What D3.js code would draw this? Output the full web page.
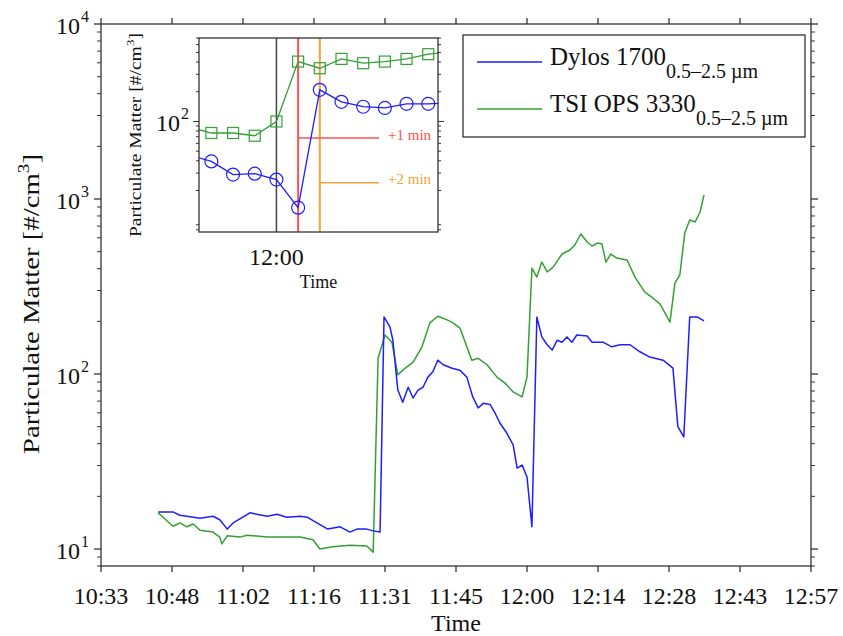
<!DOCTYPE html>
<html>
  <head>
    <meta charset="utf-8">
    <title></title>
    <script src="https://d3js.org/d3.v7.min.js"></script>
  </head>
  <style>
    body { margin: 0; background: #fff; }
    svg { font-family: "Liberation Serif", "Times New Roman", serif; }
  </style>
  <body>
  <svg width="843" height="636"></svg>
  <script>

  // time is in minutes after 10:00
  var dylosMin = [45.2,48.2,49.6,53.7,56.3,57.7,59.2,60.4,63.8,67.3,69.3,71.3,74.0,75.4,77.4,79.6,82.1,84.1,85.5,87.5,88.8,90.2,
    91.0,92.2,92.8,93.8,94.8,95.9,96.9,97.9,98.9,99.9,100.9,101.9,103.0,104.8,106.4,107.8,109.0,110.1,111.1,112.5,113.5,114.5,
    115.9,117.2,118.0,119.0,120.0,121.0,122.0,123.0,124.1,125.1,126.1,127.1,128.1,129.1,130.1,132.2,133.2,135.4,137.2,138.9,
    140.9,142.9,144.9,147.6,149.6,150.6,151.8,153.0,154.5,155.9];
  var dylosVal = [16.3,16.3,15.6,15.0,15.4,14.7,13.0,14.1,16.1,15.4,15.8,15.2,15.4,15.2,14.1,13.0,13.4,12.5,13.0,13.0,12.7,12.5,
    212,186,156,81,69,84,73,81,84,96,103,120,113,108,105,96,74,64,68,67,60,52.5,
    46,39.3,29,30.2,25.8,13.4,212,163,147,137,156,152,163,152,167,165,152,152,143,147,
    147,134,125,120,108,50,43.7,212,212,201];

  var tsiMin = [45.2,46.2,48.2,49.6,51.0,52.3,53.7,56.3,57.7,58.1,59.2,61.8,63.2,67.3,71.3,74.0,76.6,78.0,80.6,84.1,87.5,88.8,
    89.8,91.2,92.6,93.8,95.3,96.9,98.7,100.3,101.9,103.8,105.0,106.4,107.8,108.8,110.1,111.9,113.9,115.5,117.2,119.0,120.0,
    121.0,122.0,123.0,124.1,125.3,127.1,128.7,129.7,130.9,132.2,133.2,134.4,135.2,136.0,137.0,138.2,140.3,141.9,143.9,145.5,
    147.0,149.0,150.0,151.0,152.0,153.0,154.1,155.1,155.9];
  var tsiVal = [16.1,15.2,13.5,14.1,13.4,13.9,12.8,12.5,11.7,10.7,11.9,11.7,12.0,11.7,11.7,11.7,11.3,10.0,10.3,10.5,10.4,9.6,
    123,167,152,99,108,117,143,196,214,204,196,183,143,120,123,113,96,89,79,74,96,
    403,358,436,383,408,485,511,546,631,568,539,561,553,436,485,460,448,358,294,272,
    251,198,331,368,640,759,739,843,1054];

  var xTickLabels = ["10:33","10:48","11:02","11:16","11:31","11:45","12:00","12:14","12:28","12:43","12:57"];
  var xTickStep = 14.4;
  var xStart = 33.6;
  var yMajor = [10, 100, 1000, 10000];

  // inset: minutes relative to 12:00
  var insetMin = [-4,-3,-2,-1,0,1,2,3,4,5,6,7,8];
  var insetDylos = [45.6,39.4,29.0,29.6,25.8,13.4,209,158,141,137,151,151,155];
  var insetTsi = [87.4,76.4,76.4,71.7,100,404,346,430,389,404,430,480,506];
  var insetMarks = [{t: 0, color: "#444"}, {t: 1, color: "#ff5050", label: "+1 min", ly: 68}, {t: 2, color: "#f2a33a", label: "+2 min", ly: 24}];

  var svg = d3.select("svg");
  svg.append("rect").attr("width", 843).attr("height", 636).attr("fill", "#fff");

  var mLeft = 101, mRight = 811, mTop = 24, mBottom = 566;

  var x = d3.scaleLinear().domain([xStart, xStart + xTickStep * 10]).range([mLeft, mRight]);
  var y = d3.scaleLog().domain([8, 10000]).range([mBottom, mTop]);

  var blue = "#1e1eff", green = "#34a034";

  // minor ticks for the log axis
  function minorTicks(domain) {
    var out = [];
    for (var p = -1; p < 5; p++) {
      for (var k = 2; k < 10; k++) {
        var v = k * Math.pow(10, p);
        if (v >= domain[0] && v <= domain[1]) out.push(v);
      }
    }
    return out;
  }

  var axisCol = "#333";

  // main box
  svg.append("rect").attr("x", mLeft).attr("y", mTop).attr("width", mRight - mLeft).attr("height", mBottom - mTop)
    .attr("fill", "none").attr("stroke", axisCol).attr("stroke-width", 1.3);

  var xt = d3.range(11).map(function(i) { return xStart + i * xTickStep; });
  var g = svg.append("g");
  xt.forEach(function(t, i) {
    g.append("line").attr("x1", x(t)).attr("x2", x(t)).attr("y1", mBottom).attr("y2", mBottom + 6).attr("stroke", axisCol).attr("stroke-width", 1.3);
    g.append("line").attr("x1", x(t)).attr("x2", x(t)).attr("y1", mTop).attr("y2", mTop - 6).attr("stroke", axisCol).attr("stroke-width", 1.3);
    g.append("text").attr("x", x(t)).attr("y", mBottom + 38).attr("text-anchor", "middle")
      .attr("font-size", 24).attr("fill", "#111").text(xTickLabels[i]);
  });

  yMajor.forEach(function(v) {
    g.append("line").attr("x1", mLeft).attr("x2", mLeft - 7).attr("y1", y(v)).attr("y2", y(v)).attr("stroke", axisCol).attr("stroke-width", 1.3);
    g.append("line").attr("x1", mRight).attr("x2", mRight + 7).attr("y1", y(v)).attr("y2", y(v)).attr("stroke", axisCol).attr("stroke-width", 1.3);
    g.append("text").attr("x", 80).attr("y", y(v) + 10).attr("text-anchor", "end")
      .attr("font-size", 24).attr("fill", "#111").text("10");
    g.append("text").attr("x", 81).attr("y", y(v) - 2).attr("font-size", 16).attr("fill", "#111").text(Math.round(Math.log10(v)));
  });
  minorTicks(y.domain()).forEach(function(v) {
    g.append("line").attr("x1", mLeft).attr("x2", mLeft - 4).attr("y1", y(v)).attr("y2", y(v)).attr("stroke", axisCol);
    g.append("line").attr("x1", mRight).attr("x2", mRight + 4).attr("y1", y(v)).attr("y2", y(v)).attr("stroke", axisCol);
  });

  svg.append("text").attr("x", (mLeft + mRight) / 2).attr("y", 631).attr("text-anchor", "middle")
    .attr("font-size", 24).attr("fill", "#111").text("Time");

  var yl = svg.append("text").attr("transform", "translate(39,304) rotate(-90)").attr("text-anchor", "middle")
    .attr("font-size", 24).attr("fill", "#111")
    .attr("textLength", 300).attr("lengthAdjust", "spacingAndGlyphs");
  yl.append("tspan").text("Particulate Matter [#/cm");
  yl.append("tspan").attr("font-size", 16).attr("dy", -10).text("3");
  yl.append("tspan").attr("dy", 10).text("]");

  // main lines
  var line = d3.line().x(function(d) { return x(d[0]); }).y(function(d) { return y(d[1]); });
  svg.append("path").datum(d3.zip(tsiMin, tsiVal)).attr("d", line)
    .attr("fill", "none").attr("stroke", green).attr("stroke-width", 1.5).attr("stroke-linejoin", "round");
  svg.append("path").datum(d3.zip(dylosMin, dylosVal)).attr("d", line)
    .attr("fill", "none").attr("stroke", blue).attr("stroke-width", 1.5).attr("stroke-linejoin", "round");

  // legend
  var lg = svg.append("g");
  lg.append("rect").attr("x", 463).attr("y", 35).attr("width", 342).attr("height", 102)
    .attr("fill", "#fff").attr("stroke", axisCol).attr("stroke-width", 1.3);
  [{name: "Dylos 1700", color: blue, ly: 62}, {name: "TSI OPS 3330", color: green, ly: 109}].forEach(function(s) {
    lg.append("line").attr("x1", 477).attr("x2", 542).attr("y1", s.ly).attr("y2", s.ly).attr("stroke", s.color).attr("stroke-width", 1.5);
    var t = lg.append("text").attr("x", 550).attr("y", s.ly + 3).attr("font-size", 25).attr("fill", "#111");
    t.append("tspan").text(s.name);
    t.append("tspan").attr("font-size", 20).attr("dy", 13).text("0.5\u20132.5 \u00b5m");
  });

  // inset
  var il = 199, ir = 438, it = 38, ib = 232;
  var ix = d3.scaleLinear().domain([-3.57, 7.45]).range([il, ir]);
  var iy = d3.scaleLog().domain([7.6, 700]).range([ib, it]);

  var ins = svg.append("g");
  ins.append("rect").attr("x", il).attr("y", it).attr("width", ir - il).attr("height", ib - it).attr("fill", "#fff");
  ins.append("clipPath").attr("id", "iclip").append("rect")
    .attr("x", il).attr("y", it).attr("width", ir - il).attr("height", ib - it);

  var ic = ins.append("g").attr("clip-path", "url(#iclip)");

  insetMarks.forEach(function(m) {
    ic.append("line").attr("x1", ix(m.t)).attr("x2", ix(m.t)).attr("y1", it).attr("y2", ib)
      .attr("stroke", m.color).attr("stroke-width", m.t === 0 ? 1.5 : 2);
  });
  insetMarks.filter(function(m) { return m.label; }).forEach(function(m) {
    var yy = iy(m.ly);
    ic.append("line").attr("x1", ix(m.t)).attr("x2", 379).attr("y1", yy).attr("y2", yy)
      .attr("stroke", m.color).attr("stroke-width", 1.5);
    ic.append("text").attr("x", 388).attr("y", yy + 1.5).attr("font-size", 15).attr("fill", m.color).text(m.label);
  });

  var iline = d3.line().x(function(d) { return ix(d[0]); }).y(function(d) { return iy(d[1]); });
  var tsiPts = d3.zip(insetMin, insetTsi), dyPts = d3.zip(insetMin, insetDylos);
  ic.append("path").datum(tsiPts).attr("d", iline).attr("fill", "none").attr("stroke", green).attr("stroke-width", 1.3);
  ic.append("path").datum(dyPts).attr("d", iline).attr("fill", "none").attr("stroke", blue).attr("stroke-width", 1.3);
  ic.selectAll(".sq").data(tsiPts).enter().append("rect")
    .attr("x", function(d) { return ix(d[0]) - 5.5; }).attr("y", function(d) { return iy(d[1]) - 5.5; })
    .attr("width", 11).attr("height", 11).attr("fill", "none").attr("stroke", green).attr("stroke-width", 1.2);
  ic.selectAll(".ci").data(dyPts).enter().append("circle")
    .attr("cx", function(d) { return ix(d[0]); }).attr("cy", function(d) { return iy(d[1]); })
    .attr("r", 6.5).attr("fill", "none").attr("stroke", blue).attr("stroke-width", 1.2);

  ins.append("rect").attr("x", il).attr("y", it).attr("width", ir - il).attr("height", ib - it)
    .attr("fill", "none").attr("stroke", axisCol).attr("stroke-width", 1.3);

  minorTicks(iy.domain()).concat([100]).forEach(function(v) {
    var len = v === 100 ? 6 : 3;
    ins.append("line").attr("x1", il).attr("x2", il - len).attr("y1", iy(v)).attr("y2", iy(v)).attr("stroke", axisCol);
    ins.append("line").attr("x1", ir).attr("x2", ir + len).attr("y1", iy(v)).attr("y2", iy(v)).attr("stroke", axisCol);
  });
  ins.append("text").attr("x", 180).attr("y", iy(100) + 10).attr("text-anchor", "end")
    .attr("font-size", 24).attr("fill", "#111").text("10");
  ins.append("text").attr("x", 181).attr("y", iy(100) - 2).attr("font-size", 16).attr("fill", "#111").text("2");
  ins.append("text").attr("x", ix(0)).attr("y", 265).attr("text-anchor", "middle")
    .attr("font-size", 24).attr("fill", "#111").text("12:00");
  ins.append("text").attr("x", (il + ir) / 2).attr("y", 288).attr("text-anchor", "middle")
    .attr("font-size", 18).attr("fill", "#111").text("Time");
  var iyl = ins.append("text").attr("transform", "translate(141," + ((it + ib) / 2) + ") rotate(-90)")
    .attr("text-anchor", "middle").attr("font-size", 16).attr("fill", "#111")
    .attr("textLength", 204).attr("lengthAdjust", "spacingAndGlyphs");
  iyl.append("tspan").text("Particulate Matter [#/cm");
  iyl.append("tspan").attr("font-size", 11).attr("dy", -7).text("3");
  iyl.append("tspan").attr("dy", 7).text("]");

  </script>
  </body>
</html>
